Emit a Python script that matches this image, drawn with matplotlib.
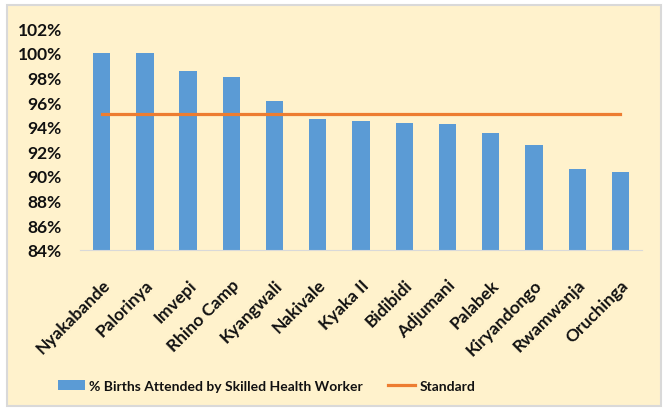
import matplotlib
matplotlib.use("Agg")
import matplotlib.pyplot as plt
from matplotlib.patches import Rectangle
from matplotlib.ticker import FuncFormatter

settlements = ["Nyakabande", "Palorinya", "Imvepi", "Rhino Camp", "Kyangwali", "Nakivale",
               "Kyaka II", "Bidibidi", "Adjumani", "Palabek", "Kiryandongo", "Rwamwanja", "Oruchinga"]
births_pct = [100.0, 100.0, 98.55, 98.05, 96.05, 94.6, 94.5, 94.3, 94.2, 93.45, 92.55, 90.6, 90.3]
standard = [95.0] * len(settlements)

plt.rcParams["font.family"] = ["Lato", "DejaVu Sans"]
plt.rcParams["font.weight"] = "bold"

bg = "#FFF2CC"
fig = plt.figure(figsize=(6.67, 4.10), dpi=100)
fig.patch.set_facecolor("white")
fig.patches.append(Rectangle((0.011, 0.008), 0.98, 0.978, transform=fig.transFigure,
                             facecolor=bg, edgecolor="#D9D9D9", linewidth=1.5, zorder=-5))

ax = fig.add_axes([0.12, 0.388, 0.8425, 0.541])
ax.set_zorder(2)
ax.set_facecolor("none")
x = list(range(len(settlements)))
bars = ax.bar(x, [v - 84 for v in births_pct], bottom=84, width=0.4, color="#5B9BD5", zorder=2)
line, = ax.plot(x, standard, color="#ED7D31", linewidth=2.3, zorder=3)

ax.set_ylim(84, 102)
ax.set_xlim(-0.5, len(settlements) - 0.5)
ax.set_yticks(range(84, 103, 2))
ax.yaxis.set_major_formatter(FuncFormatter(lambda v, _: f"{v:.0f}%"))
ax.set_xticks(x)
ax.set_xticklabels(settlements, rotation=45, ha="right", rotation_mode="anchor")
ax.tick_params(axis="y", length=0, labelsize=12.5, pad=13, labelcolor="#111111")
ax.tick_params(axis="x", length=0, labelsize=12.5, pad=19, labelcolor="#111111")
for lbl in ax.get_xticklabels() + ax.get_yticklabels():
    lbl.set_fontweight("bold")
for side in ["top", "right", "left"]:
    ax.spines[side].set_visible(False)
ax.spines["bottom"].set_color("#D9D9D9")

leg = fig.legend([bars, line], ["% Births Attended by Skilled Health Worker", "Standard"],
                 loc="center", bbox_to_anchor=(0.4, 0.056), ncol=2, frameon=False,
                 fontsize=10, handlelength=1.9, handleheight=0.7, handletextpad=0.35,
                 columnspacing=1.8, labelcolor="#111111")
leg.set_zorder(3)

fig.savefig("out.png", dpi=100)
